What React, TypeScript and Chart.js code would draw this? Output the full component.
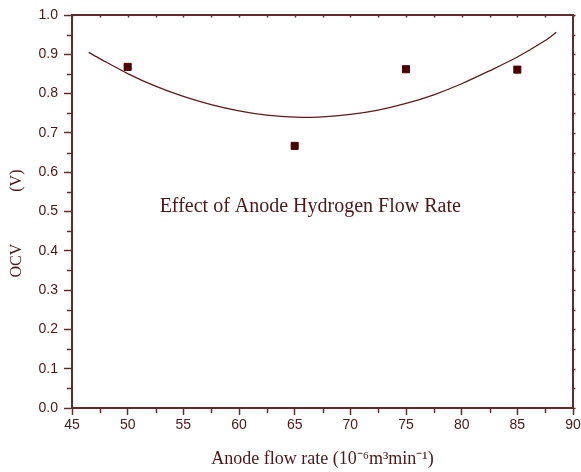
import React, { useEffect, useRef } from "react";
import { Chart, registerables } from "chart.js";

Chart.register(...registerables);

// Measured points (anode flow rate, OCV)
const flowRates = [50, 65, 75, 85];
const ocvValues = [0.868, 0.667, 0.862, 0.861];

// Fitted curve
const fitX = [46.5, 47.5, 50, 52.5, 55, 57.5, 60, 62.5, 65, 67.5, 70, 72.5, 75, 77.5, 80, 82.5, 85, 87.5, 88.5];
const fitY = [0.905, 0.889, 0.851, 0.819, 0.793, 0.772, 0.756, 0.745, 0.740, 0.741, 0.747, 0.758, 0.775, 0.797, 0.825, 0.858, 0.893, 0.935, 0.956];

const xTitle = "Anode flow rate (10\u207B\u2076m\u00B3min\u207B\u00B9)";
const yTitle = "OCV             (V)      ";
const annotationText = "Effect of Anode Hydrogen Flow Rate";
const annotationAt = { x: 66.4, y: 0.5 };

const AXIS = "#5e2c2c";
const TEXT = "#4a1818";
const MARK = "#4a0000";
const LINE = "#5a1c1c";
const SERIF = "'Liberation Serif', 'Times New Roman', serif";
const SANS = "'Liberation Sans', Arial, sans-serif";

const framePlugin = {
  id: "frame",
  afterDraw(chart: any) {
    const { ctx, chartArea, scales } = chart;
    const { left, right, top, bottom } = chartArea;
    const x = scales.x;
    const y = scales.y;
    ctx.save();
    ctx.strokeStyle = AXIS;
    ctx.lineWidth = 2;
    ctx.beginPath();
    ctx.moveTo(left - 1, top);
    ctx.lineTo(right, top);
    ctx.lineTo(right, bottom + 1);
    ctx.stroke();

    ctx.lineWidth = 1.5;
    ctx.beginPath();
    // minor x ticks (bottom) and top ticks
    for (let v = x.min; v <= x.max + 1e-9; v += 2.5) {
      const px = Math.round(x.getPixelForValue(v)) + 0.5;
      const isMajor = Math.abs(v / 5 - Math.round(v / 5)) < 1e-6;
      if (!isMajor) {
        ctx.moveTo(px, bottom);
        ctx.lineTo(px, bottom + 5);
      }
      ctx.moveTo(px, top);
      ctx.lineTo(px, top + 2.5);
    }
    // minor y ticks (left) and right ticks
    for (let i = 0; i <= 20; i++) {
      const v = i * 0.05;
      const py = Math.round(y.getPixelForValue(v)) + 0.5;
      if (i % 2 === 1) {
        ctx.moveTo(left, py);
        ctx.lineTo(left - 5, py);
      }
      ctx.moveTo(right, py);
      ctx.lineTo(right + 2.5, py);
    }
    ctx.stroke();

    // annotation
    ctx.fillStyle = TEXT;
    ctx.font = `20px ${SERIF}`;
    ctx.textAlign = "center";
    ctx.textBaseline = "alphabetic";
    ctx.fillText(
      annotationText,
      x.getPixelForValue(annotationAt.x),
      y.getPixelForValue(annotationAt.y)
    );
    ctx.restore();
  },
};

export default function App() {
  const canvasRef = useRef<HTMLCanvasElement>(null);

  useEffect(() => {
    if (!canvasRef.current) return;
    const chart = new Chart(canvasRef.current, {
      type: "scatter",
      data: {
        datasets: [
          {
            type: "line",
            data: fitX.map((v, i) => ({ x: v, y: fitY[i] })),
            borderColor: LINE,
            borderWidth: 1.3,
            pointRadius: 0,
            tension: 0.3,
            fill: false,
          } as any,
          {
            type: "scatter",
            data: flowRates.map((v, i) => ({ x: v, y: ocvValues[i] })),
            pointStyle: "rect",
            pointRadius: 5,
            backgroundColor: MARK,
            borderColor: MARK,
            borderWidth: 1,
          },
        ],
      },
      options: {
        animation: false,
        responsive: false,
        maintainAspectRatio: false,
        layout: { padding: { top: 15, right: 8, left: 0, bottom: 0 } },
        plugins: { legend: { display: false }, tooltip: { enabled: false } },
        scales: {
          x: {
            type: "linear",
            min: 45,
            max: 90,
            afterFit(scale: any) {
              scale.height = 64;
              scale.paddingLeft = 0;
              scale.paddingRight = 0;
            },
            ticks: {
              stepSize: 5,
              color: TEXT,
              font: { family: SANS, size: 14 },
              padding: 2,
            },
            grid: {
              drawOnChartArea: false,
              drawTicks: true,
              tickLength: 7,
              tickColor: AXIS,
              tickWidth: 1.5,
            },
            border: { display: true, color: AXIS, width: 2 },
            title: {
              display: true,
              text: xTitle,
              color: TEXT,
              font: { family: SERIF, size: 18 },
              padding: { top: 0, bottom: 2 },
            },
          },
          y: {
            type: "linear",
            min: 0,
            max: 1,
            afterFit(scale: any) {
              scale.width = 72;
              scale.paddingTop = 0;
              scale.paddingBottom = 0;
            },
            ticks: {
              stepSize: 0.1,
              color: TEXT,
              font: { family: SANS, size: 14 },
              padding: 6,
              callback: (v: any) => Number(v).toFixed(1),
            },
            grid: {
              drawOnChartArea: false,
              drawTicks: true,
              tickLength: 8,
              tickColor: AXIS,
              tickWidth: 1.5,
            },
            border: { display: true, color: AXIS, width: 2 },
            title: {
              display: true,
              text: yTitle,
              color: TEXT,
              font: { family: SERIF, size: 16 },
              padding: { top: 7, bottom: 0 },
            },
          },
        },
      },
      plugins: [framePlugin],
    });
    return () => chart.destroy();
  }, []);

  return (
    <div style={{ position: "absolute", left: 0, top: 0, width: 581, height: 472, background: "#fff" }}>
      <canvas ref={canvasRef} width={581} height={472} style={{ width: 581, height: 472 }} />
    </div>
  );
}
